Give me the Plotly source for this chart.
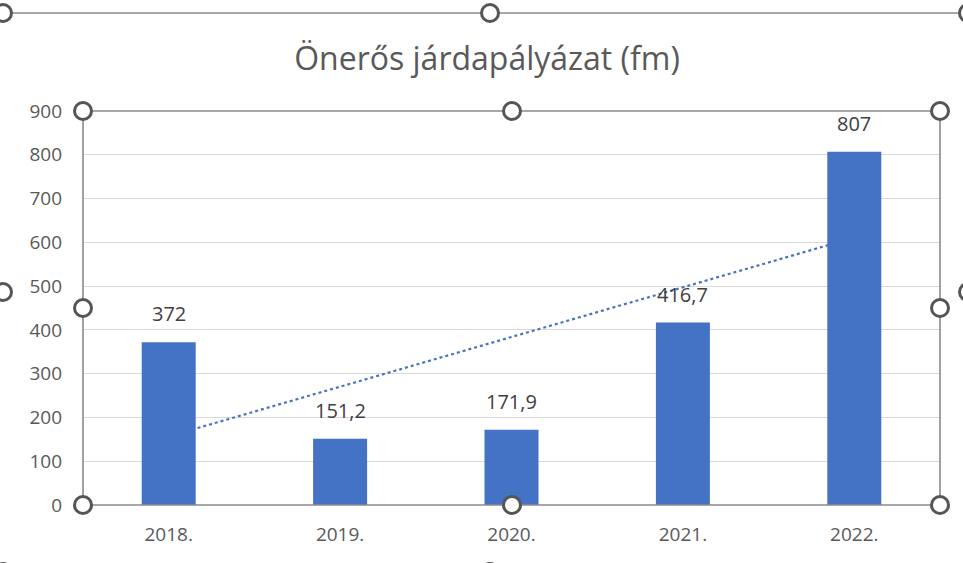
import numpy as np
import plotly.graph_objects as go

years = ["2018.", "2019.", "2020.", "2021.", "2022."]
values = [372, 151.2, 171.9, 416.7, 807]
y_ticks = [0, 100, 200, 300, 400, 500, 600, 700, 800, 900]
title_text = "Önerős járdapályázat (fm)"

W, H = 963, 563
L, R, T, B = 83, 940, 111, 505  # plot area pixel box
FONT = "Open Sans"

xs = list(range(len(years)))

# linear trendline (least squares over category index)
idx = np.arange(1, len(values) + 1)
slope, intercept = np.polyfit(idx, values, 1)
trend = slope * idx + intercept

labels = [f"{v:g}".replace(".", ",") for v in values]

fig = go.Figure()
fig.add_trace(go.Scatter(
    x=xs, y=trend, mode="lines",
    line=dict(color="#4a72c0", width=2.2, dash="dot"),
    hoverinfo="skip", showlegend=False,
))
fig.add_trace(go.Bar(
    x=xs, y=values, marker=dict(color="#4472C4", line=dict(width=0)),
    showlegend=False,
))
for x, v, t in zip(xs, values, labels):
    fig.add_annotation(x=x, y=v, text=t, showarrow=False, yanchor="bottom", yshift=13,
                       font=dict(family=FONT, size=20, color="#404040"))


def px(xp):
    return (xp - L) / (R - L)


def py(yp):
    return (B - yp) / (B - T)


shapes = []
# plot area frame
shapes.append(dict(type="rect", xref="paper", yref="paper", x0=0, x1=1, y0=0, y1=1,
                   line=dict(color="#8a8a8a", width=1.6), layer="above"))
# chart area top border
shapes.append(dict(type="line", xref="paper", yref="paper", x0=px(0), x1=px(W), y0=py(13), y1=py(13),
                   line=dict(color="#8a8a8a", width=1.6), layer="above"))
handles = [(L, T), ((L + R) / 2 + 0.5, T), (R, T), (L, (T + B) / 2), (R, (T + B) / 2),
           (L, B), ((L + R) / 2 + 0.5, B), (R, B),
           (3, 13), (490, 13), (968, 13), (3, 292), (968, 292), (3, 572), (490, 572)]
for hx, hy in handles:
    shapes.append(dict(type="circle", xref="paper", yref="paper",
                       xsizemode="pixel", ysizemode="pixel",
                       xanchor=px(hx), yanchor=py(hy), x0=-8.5, x1=8.5, y0=-8.5, y1=8.5,
                       fillcolor="white", line=dict(color="#555555", width=3), layer="above"))

fig.update_layout(
    width=W, height=H,
    margin=dict(l=L, r=W - R, t=T, b=H - B, pad=0),
    paper_bgcolor="white", plot_bgcolor="white",
    bargap=0.685,
    shapes=shapes,
    title=dict(text=title_text, x=487 / W, xanchor="center", y=1 - 59 / H, yanchor="middle",
               font=dict(family=FONT, size=32, color="#595959")),
    xaxis=dict(range=[-0.5, len(years) - 0.5], tickvals=xs, ticktext=years,
               showgrid=False, showline=False, zeroline=False, ticks="",
               tickfont=dict(family=FONT, size=19, color="#595959"),
               ticklabelstandoff=16),
    yaxis=dict(range=[0, 900], tickvals=y_ticks, showgrid=True, gridcolor="#d9d9d9", gridwidth=1,
               zeroline=False, showline=False, ticks="",
               tickfont=dict(family=FONT, size=19, color="#595959"),
               ticklabelstandoff=20),
    font=dict(family=FONT),
)

fig.write_html("out.html", config={"displayModeBar": False},
               post_script="document.body.style.margin='0';")
